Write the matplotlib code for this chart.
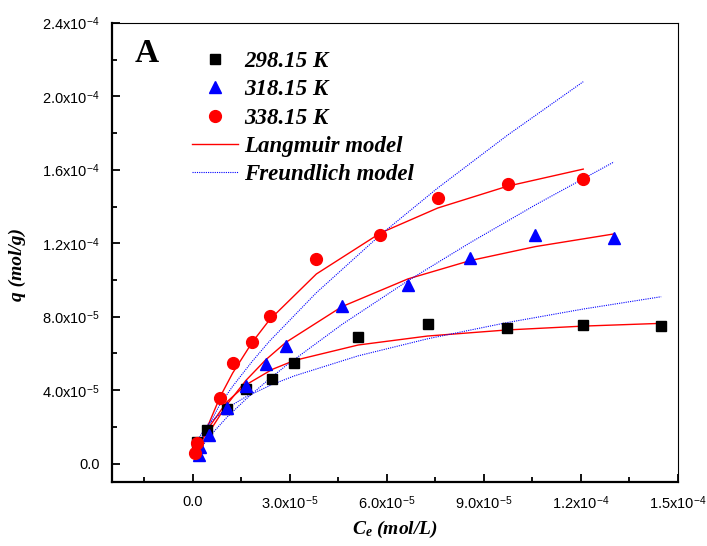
import numpy as np
import matplotlib
matplotlib.use('Agg')
import matplotlib.pyplot as plt
from matplotlib.ticker import FixedLocator, FixedFormatter, MultipleLocator

plt.rcParams['mathtext.fontset'] = 'custom'
plt.rcParams['mathtext.rm'] = 'Liberation Sans'
plt.rcParams['mathtext.it'] = 'Liberation Serif:italic:bold'

# data (units 1e-5)
c_298 = [0.12, 0.45, 1.05, 1.64, 2.45, 3.14, 5.11, 7.26, 9.71, 12.07, 14.48]
q_298 = [1.18, 1.82, 2.96, 4.09, 4.60, 5.46, 6.88, 7.59, 7.38, 7.55, 7.49]
lang_298 = [0.59, 1.86, 3.36, 4.29, 5.13, 5.62, 6.46, 6.95, 7.28, 7.49, 7.64]
freu_298 = [1.22, 2.12, 3.02, 3.64, 4.31, 4.78, 5.87, 6.80, 7.68, 8.42, 9.09]

c_318 = [0.185, 0.225, 0.51, 1.05, 1.64, 2.25, 2.88, 4.61, 6.65, 8.58, 10.59, 13.02]
q_318 = [0.45, 0.91, 1.58, 3.03, 4.22, 5.42, 6.42, 8.60, 9.75, 11.19, 12.46, 12.28]
lang_318 = [0.67, 0.81, 1.73, 3.21, 4.53, 5.65, 6.61, 8.55, 10.06, 11.06, 11.82, 12.51]
freu_318 = [0.69, 0.80, 1.47, 2.52, 3.51, 4.44, 5.34, 7.58, 9.96, 12.04, 14.09, 16.43]

c_338 = [0.07, 0.14, 0.84, 1.23, 1.84, 2.37, 3.82, 5.80, 7.57, 9.73, 12.07]
q_338 = [0.58, 1.12, 3.55, 5.46, 6.64, 8.05, 11.15, 12.46, 14.49, 15.24, 15.51]
lang_338 = [0.36, 0.70, 3.63, 4.93, 6.62, 7.83, 10.33, 12.56, 13.92, 15.11, 16.04]
freu_338 = [0.57, 0.92, 3.23, 4.21, 5.58, 6.67, 9.31, 12.46, 15.01, 17.89, 20.80]

x_ticks = [0, 3e-5, 6e-5, 9e-5, 1.2e-4, 1.5e-4]
x_labels = ['0.0', '3.0x10$^{-5}$', '6.0x10$^{-5}$', '9.0x10$^{-5}$', '1.2x10$^{-4}$', '1.5x10$^{-4}$']
y_ticks = [0, 4e-5, 8e-5, 1.2e-4, 1.6e-4, 2.0e-4, 2.4e-4]
y_labels = ['0.0', '4.0x10$^{-5}$', '8.0x10$^{-5}$', '1.2x10$^{-4}$', '1.6x10$^{-4}$', '2.0x10$^{-4}$', '2.4x10$^{-4}$']

def s(v):
    return np.array(v) * 1e-5

fig = plt.figure(figsize=(7.07, 5.46), dpi=100)
ax = fig.add_axes([0.1584, 0.1172, 0.8006, 0.8408])

ax.plot(s(c_298), s(q_298), 's', color='black', ms=7, label='298.15 K', zorder=3)
ax.plot(s(c_318), s(q_318), '^', color='blue', ms=9, label='318.15 K', zorder=3)
ax.plot(s(c_338), s(q_338), 'o', color='red', ms=8.5, label='338.15 K', zorder=3)

ax.plot(s(c_298), s(lang_298), '-', color='red', lw=1, label='Langmuir model')
ax.plot(s(c_318), s(lang_318), '-', color='red', lw=1)
ax.plot(s(c_338), s(lang_338), '-', color='red', lw=1)
ax.plot(s(c_298), s(freu_298), color='blue', lw=0.8, ls=(0, (1, 1)), label='Freundlich model')
ax.plot(s(c_318), s(freu_318), color='blue', lw=0.8, ls=(0, (1, 1)))
ax.plot(s(c_338), s(freu_338), color='blue', lw=0.8, ls=(0, (1, 1)))

ax.set_xlim(-2.5e-5, 1.5e-4)
ax.set_ylim(-1.0e-5, 2.4e-4)
ax.xaxis.set_major_locator(FixedLocator(x_ticks))
ax.xaxis.set_major_formatter(FixedFormatter(x_labels))
ax.xaxis.set_minor_locator(MultipleLocator(1.5e-5))
ax.yaxis.set_major_locator(FixedLocator(y_ticks))
ax.yaxis.set_major_formatter(FixedFormatter(y_labels))
ax.yaxis.set_minor_locator(MultipleLocator(2e-5))

ax.tick_params(which='both', direction='in', top=False, right=False, width=1.3)
ax.tick_params(which='major', length=6, pad=9, labelsize=10.5)
ax.tick_params(which='minor', length=3.5)
for lab in ax.get_xticklabels() + ax.get_yticklabels():
    lab.set_fontfamily('Liberation Sans')
ax.spines['left'].set_linewidth(1.6)
ax.spines['bottom'].set_linewidth(1.6)
ax.spines['top'].set_linewidth(0.8)
ax.spines['right'].set_linewidth(0.8)

ax.set_xlabel(r'$\mathit{C_e}$ (mol/L)', family='Liberation Serif', style='italic',
              weight='bold', fontsize=14, labelpad=5)
ax.set_ylabel('q (mol/g)', family='Liberation Serif', style='italic',
              weight='bold', fontsize=14)
ax.yaxis.set_label_coords(-0.152, 0.473)

ax.text(0.04, 0.915, 'A', transform=ax.transAxes, family='Liberation Serif',
        weight='bold', fontsize=24)

leg = ax.legend(loc='upper left', bbox_to_anchor=(0.141, 0.939), frameon=False,
                prop={'family': 'Liberation Serif', 'style': 'italic', 'weight': 'bold', 'size': 16.5},
                handlelength=2.0, handletextpad=0.3, labelspacing=0.32, borderpad=0,
                borderaxespad=0)

fig.savefig('out.png', dpi=100)
